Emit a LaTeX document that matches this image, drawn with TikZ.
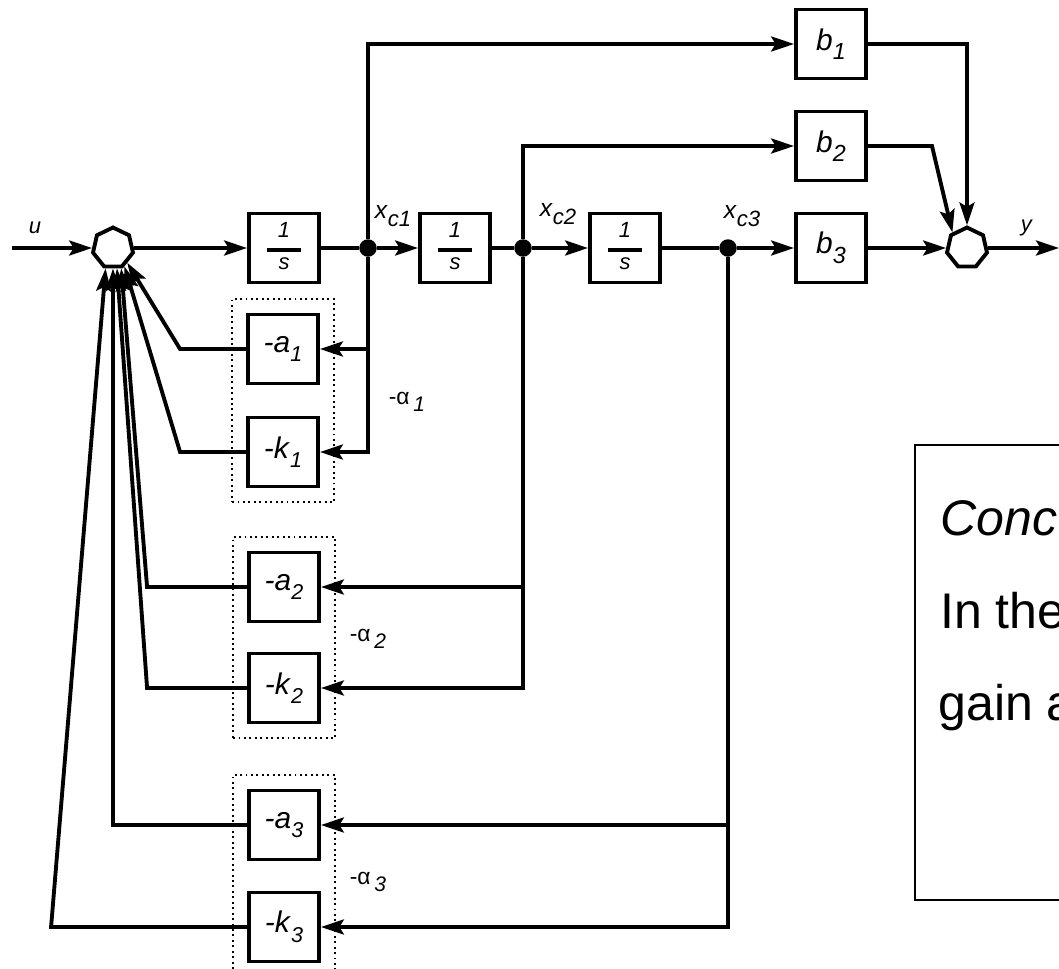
\documentclass[tikz,border=0pt]{standalone}
\usepackage{fontspec}
\setmainfont{Liberation Sans}
\usepackage{graphicx}
\usepackage{tikz}
\usetikzlibrary{shapes.geometric, arrows.meta, positioning, calc, fit}
\definecolor{DiagBlack}{HTML}{000000}
\definecolor{DiagWhite}{HTML}{FFFFFF}
% italic symbol with a lowered, slightly smaller index
\newcommand{\lbl}[3][0.78]{\textit{#2}\raisebox{-0.32em}{\scalebox{#1}{\textit{#3}}}}
\newcommand{\alpl}[1]{-α\,\raisebox{-0.3em}{\scalebox{0.92}{\textit{#1}}}}
\newcommand{\integ}{\begin{tabular}{@{}c@{}}\itshape 1\\[-6.8pt]\rule{0.7cm}{2.3pt}\\[-5pt]\itshape s\end{tabular}}
\tikzset{
    blockbox/.style={
        draw=DiagBlack,
        line width=2.2pt,
        fill=DiagWhite,
        minimum width=1.4cm,
        minimum height=1.38cm,
        inner sep=0pt,
        font=\fontsize{17}{20}\selectfont
    },
    intbox/.style={
        blockbox,
        font=\fontsize{12.5}{15}\selectfont
    },
    sumnode/.style={
        regular polygon,
        regular polygon sides=7,
        draw=DiagBlack,
        line width=2.2pt,
        fill=DiagWhite,
        minimum size=0.82cm,
        inner sep=0pt
    },
    tapdot/.style={
        circle,
        fill=DiagBlack,
        minimum size=0.35cm,
        inner sep=0pt
    },
    groupbox/.style={
        draw=DiagBlack,
        dotted,
        line width=1.1pt,
        inner sep=0.28cm
    },
    arrow/.style={
        -{Stealth[length=13pt, width=8.5pt, inset=2.5pt]},
        line width=2.2pt,
        DiagBlack
    },
    wire/.style={
        line width=2.2pt,
        DiagBlack
    },
    siglabel/.style={
        font=\fontsize{14}{17}\selectfont,
        inner sep=0pt
    },
    notebox/.style={
        draw=DiagBlack,
        line width=1.1pt
    },
    notetext/.style={
        font=\fontsize{28.5}{34}\selectfont,
        inner sep=0pt,
        anchor=base west
    }
}

\begin{document}
\begin{tikzpicture}[x=0.02cm, y=-0.02cm]
    \useasboundingbox (0,0) rectangle (1059,968);
    \clip (0,0) rectangle (1059,968);

    % Summing junctions
    \node[sumnode] (S1) at (113,248) {};
    \node[sumnode] (S2) at (967,248) {};
    \coordinate (uin) at (12,248);
    \coordinate (yout) at (1059,248);

    % Integrators and taps
    \node[intbox] (I1) at (284,248) {\integ};
    \node[intbox] (I2) at (455,248) {\integ};
    \node[intbox] (I3) at (625,248) {\integ};
    \node[tapdot] (xc1) at (368,248) {};
    \node[tapdot] (xc2) at (523,248) {};
    \node[tapdot] (xc3) at (728,248) {};

    % Output gains
    \node[blockbox] (b1) at (831,44) {\lbl{b}{1}};
    \node[blockbox] (b2) at (831,146) {\lbl{b}{2}};
    \node[blockbox] (b3) at (831,248) {\lbl{b}{3}};
    \coordinate (kb2) at (932,146);

    % Feedback gains
    \node[blockbox] (a1) at (283,349) {\lbl[0.72]{-a}{1}};
    \node[blockbox] (k1) at (283,452) {\lbl[0.72]{-k}{1}};
    \node[blockbox] (a2) at (284,587) {\lbl[0.72]{-a}{2}};
    \node[blockbox] (k2) at (284,688) {\lbl[0.72]{-k}{2}};
    \node[blockbox] (a3) at (284,825) {\lbl[0.72]{-a}{3}};
    \node[blockbox] (k3) at (284,927) {\lbl[0.72]{-k}{3}};
    \node[groupbox, fit=(a1)(k1)] (g1) {};
    \node[groupbox, fit=(a2)(k2)] (g2) {};
    \node[groupbox, fit=(a3)(k3)] (g3) {};

    % Labels
    \node[siglabel, font=\fontsize{12.5}{15}\selectfont] (ulbl) at (35,228) {\textit{u}};
    \node[siglabel, font=\fontsize{12.5}{15}\selectfont] (ylbl) at (1027,228) {\textit{y}};
    \node[siglabel] (xc1lbl) at (393,216) {\lbl[0.9]{x}{c1}};
    \node[siglabel] (xc2lbl) at (558,214) {\lbl[0.9]{x}{c2}};
    \node[siglabel] (xc3lbl) at (742,216) {\lbl[0.9]{x}{c3}};
    \node[siglabel, font=\fontsize{13}{16}\selectfont] (al1) at (407,402) {\alpl{1}};
    \node[siglabel, font=\fontsize{13}{16}\selectfont] (al2) at (368,639) {\alpl{2}};
    \node[siglabel, font=\fontsize{13}{16}\selectfont] (al3) at (368,882) {\alpl{3}};

    % Forward path
    \draw[arrow] (uin) -- (S1);
    \draw[arrow] (S1) -- (I1);
    \draw[wire] (I1) -- (xc1);
    \draw[arrow] (xc1) -- (I2);
    \draw[wire] (I2) -- (xc2);
    \draw[arrow] (xc2) -- (I3);
    \draw[wire] (I3) -- (xc3);
    \draw[arrow] (xc3) -- (b3);
    \draw[arrow] (b3) -- (S2);
    \draw[arrow] (S2) -- (yout);

    % Output branches
    \draw[arrow] (xc1) |- (b1);
    \draw[arrow] (xc2) |- (b2);
    \draw[arrow] (b1) -| (S2);
    \draw[arrow] (b2) -- (kb2) -- (S2.133);

    % State feedback taps
    \draw[arrow] (xc1) |- (k1);
    \draw[arrow] (xc1 |- a1) -- (a1);
    \draw[arrow] (xc2) |- (k2);
    \draw[arrow] (xc2 |- a2) -- (a2);
    \draw[arrow] (xc3) |- (k3);
    \draw[arrow] (xc3 |- a3) -- (a3);

    % Returns to the input sum
    \draw[arrow] (a1.west) -- ++(-66,0) -- (S1.-46);
    \draw[arrow] (k1.west) -- ++(-66,0) -- (S1.-58);
    \draw[arrow] (a2.west) -- ++(-100,0) -- (S1.-68);
    \draw[arrow] (k2.west) -- ++(-100,0) -- (S1.-79);
    \draw[arrow] (a3.west) -| (S1.south);
    \draw[arrow] (k3.west) -- ++(-196,0) -- (S1.-110);

    % Note
    \draw[notebox] (915,445) rectangle (1120,900);
    \node[notetext] (n1) at (940,535) {\textit{Conc}};
    \node[notetext] (n2) at (940,628) {In the};
    \node[notetext] (n3) at (938,720) {gain a};
\end{tikzpicture}
\end{document}
